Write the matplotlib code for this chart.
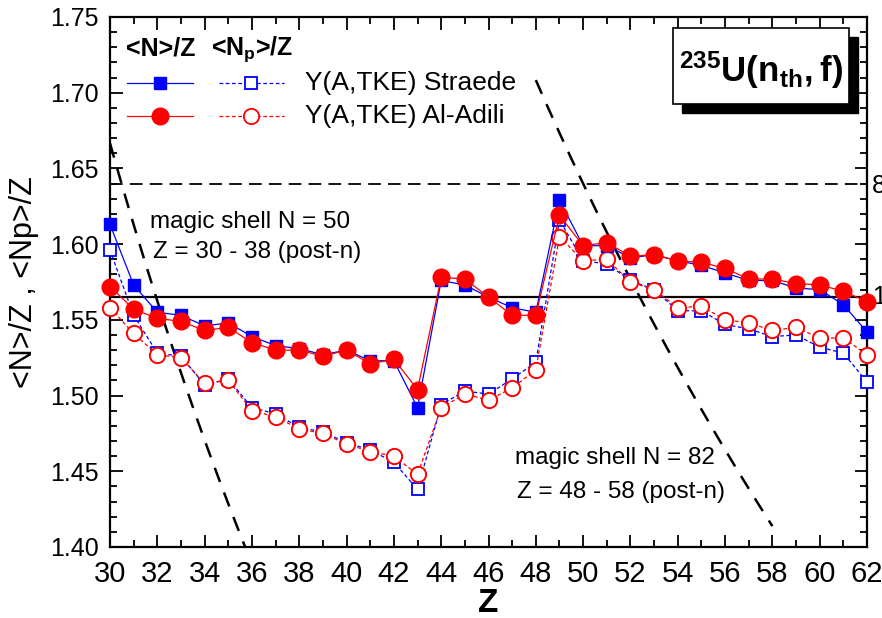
import numpy as np
import matplotlib
matplotlib.use("Agg")
import matplotlib.pyplot as plt
from matplotlib.patches import Rectangle
from matplotlib.ticker import MultipleLocator

plt.rcParams['font.family'] = ['Liberation Sans', 'DejaVu Sans']
plt.rcParams['mathtext.fontset'] = 'custom'
plt.rcParams['mathtext.rm'] = 'Liberation Sans'
plt.rcParams['mathtext.bf'] = 'Liberation Sans:bold'

# Fragment charge numbers
Z = list(range(30, 63))

# <N>/Z and <Np>/Z per fragment charge
straede_n = [1.613, 1.573, 1.555, 1.553, 1.546, 1.548, 1.539, 1.533, 1.531, 1.527,
             1.530, 1.523, 1.523, 1.492, 1.576, 1.573, 1.565, 1.558, 1.555, 1.629,
             1.599, 1.599, 1.591, 1.593, 1.589, 1.586, 1.581, 1.576, 1.576, 1.571,
             1.570, 1.560, 1.542]
adili_n = [1.572, 1.557, 1.551, 1.549, 1.543, 1.545, 1.535, 1.530, 1.530, 1.526,
           1.530, 1.521, 1.524, 1.504, 1.578, 1.577, 1.565, 1.553, 1.553, 1.619,
           1.599, 1.601, 1.592, 1.593, 1.589, 1.588, 1.584, 1.577, 1.577, 1.574,
           1.573, 1.569, 1.562]
straede_np = [1.596, 1.553, 1.528, 1.526, 1.507, 1.511, 1.492, 1.488, 1.479, 1.476,
              1.469, 1.464, 1.456, 1.438, 1.494, 1.503, 1.501, 1.511, 1.522, 1.616,
              1.589, 1.587, 1.576, 1.570, 1.556, 1.556, 1.547, 1.544, 1.539, 1.540,
              1.532, 1.528, 1.509]
adili_np = [1.558, 1.541, 1.527, 1.525, 1.508, 1.510, 1.490, 1.486, 1.478, 1.475,
            1.468, 1.463, 1.460, 1.448, 1.492, 1.501, 1.497, 1.505, 1.517, 1.605,
            1.589, 1.590, 1.575, 1.570, 1.558, 1.559, 1.550, 1.548, 1.543, 1.545,
            1.538, 1.538, 1.527]

# Reference lines: magic shells (N/Z = N_magic / Z) and compound nucleus N/Z
magic_n50, magic_n50_z = 50, (30, 38)
magic_n82, magic_n82_z = 82, (48, 58)
cn_n, cn_z = 144, 92

W, H = 882, 618
fig = plt.figure(figsize=(W / 100, H / 100), dpi=100)
L, R, T, B = 110, 867, 17, 547
ax = fig.add_axes([L / W, 1 - B / H, (R - L) / W, (B - T) / H])
ax.set_xlim(30, 62)
ax.set_ylim(1.40, 1.75)


def axx(px):
    return (px - L) / (R - L)


def axy(py):
    return (B - py) / (B - T)


# reference lines
ax.axhline(magic_n82 / magic_n50, color='black', lw=1.3, ls=(0, (7, 4)), zorder=1)
ax.axhline(cn_n / cn_z, color='black', lw=1.6, zorder=1)
for nm, (z0, z1) in ((magic_n50, magic_n50_z), (magic_n82, magic_n82_z)):
    zz = np.linspace(z0, z1, 100)
    ax.plot(zz, nm / zz, color='black', lw=1.8, ls=(0, (6, 4.5)), zorder=1)

blue, red = '#0000ff', '#ff0000'
ax.plot(Z, straede_np, color=blue, lw=0.9, ls=(0, (3, 2)), marker='s', ms=8.5,
        mfc='white', mec=blue, mew=1.3, clip_on=False, zorder=3)
ax.plot(Z, adili_np, color=red, lw=0.9, ls=(0, (3, 2)), marker='o', ms=11,
        mfc='white', mec=red, mew=1.4, clip_on=False, zorder=4)
ax.plot(Z, straede_n, color=blue, lw=0.9, marker='s', ms=9,
        mfc=blue, mec=blue, clip_on=False, zorder=5)
ax.plot(Z, adili_n, color=red, lw=0.9, marker='o', ms=12,
        mfc=red, mec=red, clip_on=False, zorder=6)

# axes styling
for s in ax.spines.values():
    s.set_linewidth(1.6)
ax.xaxis.set_major_locator(MultipleLocator(2))
ax.xaxis.set_minor_locator(MultipleLocator(1))
ax.yaxis.set_major_locator(MultipleLocator(0.05))
ax.yaxis.set_minor_locator(MultipleLocator(0.01))
ax.tick_params(which='both', direction='in', top=True, right=True, width=1.3)
ax.tick_params(which='major', length=9)
ax.tick_params(which='minor', length=5)
ax.tick_params(axis='y', labelsize=18, pad=8)
ax.tick_params(axis='x', pad=9)
ax.set_yticklabels([f'{v:.2f}' for v in ax.get_yticks()])
for lab in ax.get_xticklabels():
    lab.set_fontfamily(['Liberation Sans Narrow', 'Liberation Sans'])
    lab.set_fontsize(21)

ax.set_ylabel('<N>/Z , <Np>/Z', fontsize=22)
ax.yaxis.set_label_coords(-0.113, 0.5)
ax.yaxis.label.set_va('center')
ax.set_xlabel('Z', fontsize=24, fontweight='bold')
ax.xaxis.set_label_coords(0.5, -0.106)
ax.xaxis.label.set_va('center')

# shell annotations
ax.text(axx(150), axy(222), 'magic shell N = 50', transform=ax.transAxes,
        fontsize=17.5, ha='left', va='center')
ax.text(axx(153), axy(252), 'Z = 30 - 38 (post-n)', transform=ax.transAxes,
        fontsize=17.5, ha='left', va='center')
ax.text(axx(515), axy(458), 'magic shell N = 82', transform=ax.transAxes,
        fontsize=17.5, ha='left', va='center')
ax.text(axx(517), axy(492), 'Z = 48 - 58 (post-n)', transform=ax.transAxes,
        fontsize=17.5, ha='left', va='center')

# right-edge line labels (run off the figure edge)
ax.text(axx(872), axy(186), '82/50', transform=ax.transAxes, fontsize=18,
        ha='left', va='center', clip_on=False)
ax.text(axx(872), axy(297), '144/92', transform=ax.transAxes, fontsize=18,
        ha='left', va='center', clip_on=False)

# legend
ax.text(axx(161), axy(49), '<N>/Z', transform=ax.transAxes, fontsize=18,
        fontweight='bold', ha='center', va='center')
ax.text(axx(252), axy(49), r'<N$_\mathbf{p}$>/Z', transform=ax.transAxes,
        fontsize=18, fontweight='bold', ha='center', va='center')
rows = [
    (83, blue, 's', 9, 8.5, 'Y(A,TKE) Straede'),
    (116, red, 'o', 12, 11, 'Y(A,TKE) Al-Adili'),
]
for py, c, m, msf, mso, label in rows:
    yy = [axy(py)] * 3
    ax.plot([axx(127), axx(160), axx(193)], yy, color=c, lw=0.9,
            transform=ax.transAxes, markevery=[1], marker=m, ms=msf,
            mfc=c, mec=c, clip_on=False)
    ax.plot([axx(219), axx(251), axx(284)], yy, color=c, lw=0.9,
            ls=(0, (3, 2)), transform=ax.transAxes, markevery=[1], marker=m,
            ms=mso, mfc='white', mec=c, mew=1.3, clip_on=False)
    ax.text(axx(305), axy(py), label, transform=ax.transAxes, fontsize=19,
            ha='left', va='center')

# reaction label box with drop shadow
bx0, bx1, by0, by1, off = 673, 849, 28, 104, 9
ax.add_patch(Rectangle((axx(bx0 + off), axy(by1 + off)), axx(bx1) - axx(bx0),
                       axy(by0) - axy(by1), transform=ax.transAxes,
                       facecolor='black', edgecolor='black', zorder=7))
ax.add_patch(Rectangle((axx(bx0), axy(by1)), axx(bx1) - axx(bx0),
                       axy(by0) - axy(by1), transform=ax.transAxes,
                       facecolor='white', edgecolor='black', lw=1.2, zorder=8))
ax.text(axx((bx0 + bx1) / 2), axy(70), r'$\mathbf{^{235}U(n_{th},f)}$',
        transform=ax.transAxes, fontsize=25, ha='center', va='center', zorder=9)

fig.savefig('out.png', dpi=100)
